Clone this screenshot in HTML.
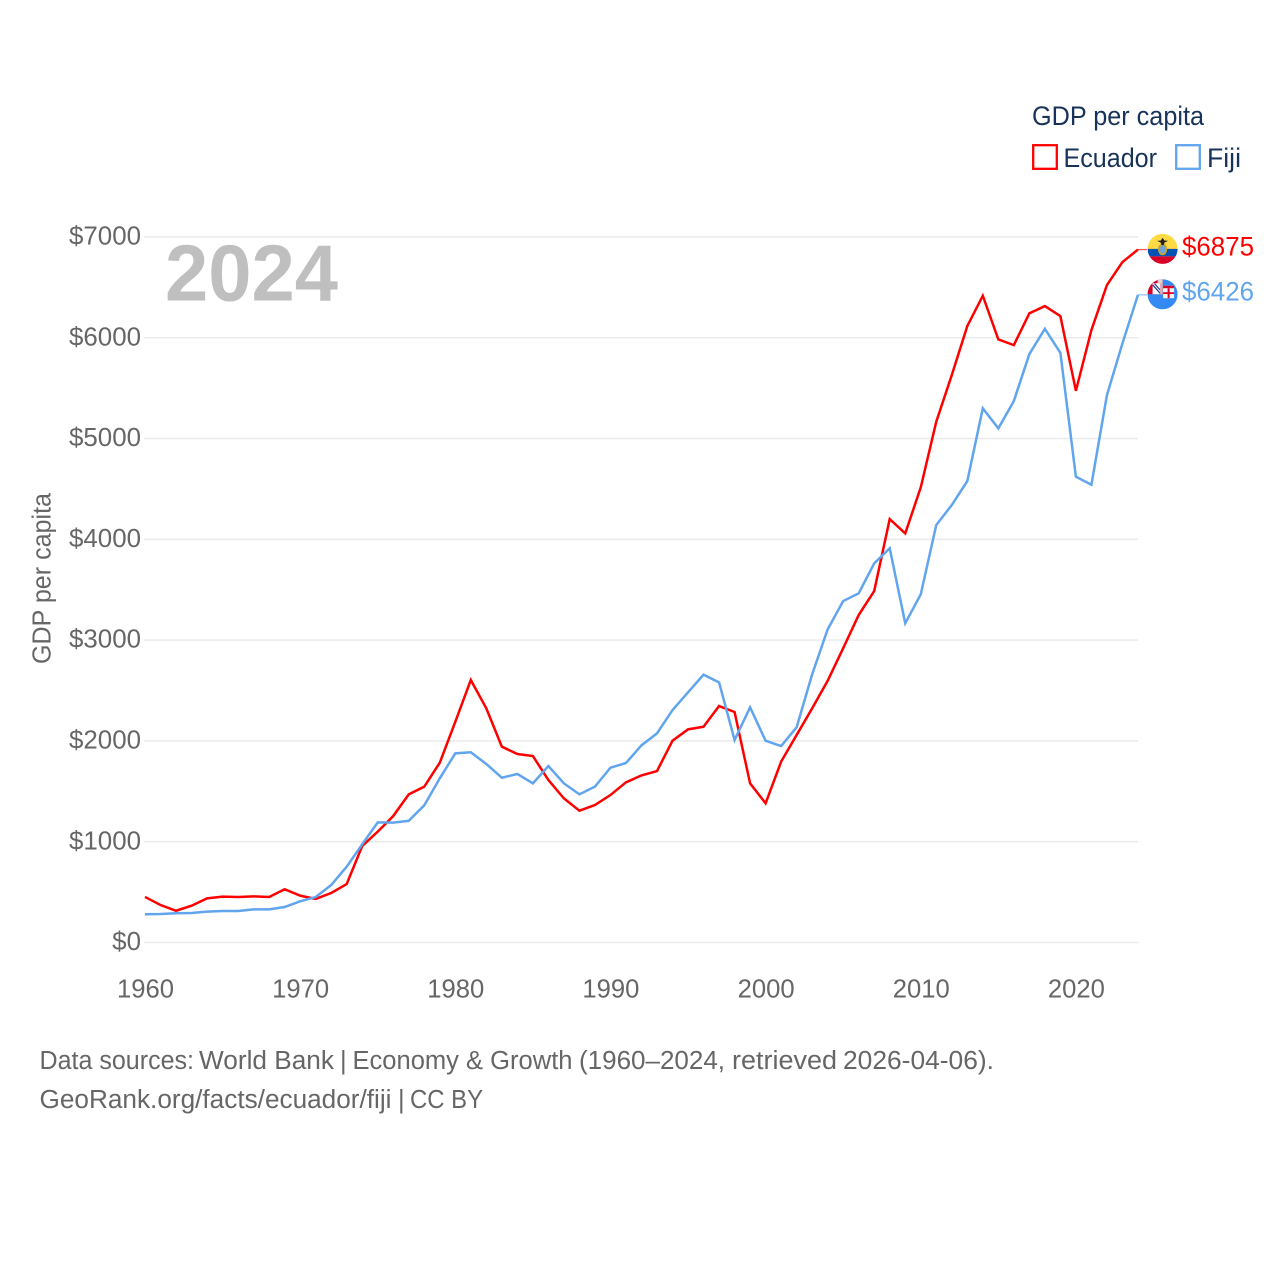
<!DOCTYPE html>
<html lang="en">
<head>
<meta charset="utf-8">
<title>GDP per capita: Ecuador and Fiji</title>
<style>
html,body{margin:0;padding:0;background:#fff;width:1280px;height:1280px;overflow:hidden}
svg{display:block}
text{font-family:"Liberation Sans",sans-serif}
</style>
</head>
<body>
<svg id="chart" xmlns="http://www.w3.org/2000/svg" width="1280" height="1280" viewBox="0 0 1280 1280">
  <rect width="1280" height="1280" fill="#ffffff"/>
  <g id="grid"></g>
  <g id="yticks"></g>
  <g id="xticks"></g>
  <text transform="translate(50.5,664) rotate(-90)" font-size="25.5" fill="#666666" textLength="171" lengthAdjust="spacingAndGlyphs">GDP per capita</text>
  <text id="yearLabel" x="165" y="300.5" font-size="80" font-weight="700" fill="#bfbfbf" textLength="173" lengthAdjust="spacingAndGlyphs"></text>
  <g id="series"></g>

  <g id="flagEcuador">
    <clipPath id="clipEc"><circle cx="0" cy="0" r="15"/></clipPath>
    <g clip-path="url(#clipEc)">
      <rect x="-15" y="-15" width="30" height="15.5" fill="#ffda44"/>
      <rect x="-15" y="0" width="30" height="7.5" fill="#0052b4"/>
      <rect x="-15" y="7.5" width="30" height="8" fill="#d80027"/>
    </g>
    <ellipse cx="0" cy="0.5" rx="4.6" ry="6" fill="#c9a227"/>
    <ellipse cx="0" cy="0.5" rx="2.8" ry="4.2" fill="#6da5d8"/>
    <path d="M-5.5,-8 L-1.8,-8.4 L0,-11 L1.8,-8.4 L5.5,-8 L2,-6.4 L1,-3.8 L-1,-3.8 L-2,-6.4 Z" fill="#222222"/>
  </g>

  <g id="flagFiji">
    <clipPath id="clipFj"><circle cx="0" cy="0" r="15"/></clipPath>
    <g clip-path="url(#clipFj)">
      <rect x="-15" y="-15" width="30" height="30" fill="#338af3"/>
      <rect x="-15" y="-15" width="15" height="15" fill="#d80027"/>
      <rect x="-5" y="-15" width="5" height="4" fill="#eccccc"/>
      <rect x="-10" y="-11" width="10" height="11" fill="#ffffff"/>
      <path d="M-9,-10 L-1,-1" stroke="#1f3f8f" stroke-width="3.4"/>
      <path d="M-9,-10 L-1,-1" stroke="#ffffff" stroke-width="1"/>
      <rect x="-2.5" y="-11" width="2.5" height="11" fill="#e8a8a8"/>
      <rect x="0.5" y="-8.5" width="11" height="12.5" fill="#f4f4f4"/>
      <rect x="0.5" y="-8.5" width="11" height="2.5" fill="#d80027"/>
      <rect x="5" y="-6" width="2" height="10" fill="#d80027"/>
      <rect x="0.5" y="-2" width="11" height="1.8" fill="#d80027"/>
      <rect x="-15" y="0.3" width="15.5" height="15" fill="#338af3"/>
    </g>
  </g>

  <g id="valueLabels"></g>

  <g>
    <text x="1032" y="125" font-size="27" fill="#17335a" textLength="172" lengthAdjust="spacingAndGlyphs">GDP per capita</text>
    <g>
      <rect x="1033.2" y="145.2" width="23.6" height="23.6" fill="#ffffff" stroke="#ff0000" stroke-width="2.3"/>
      <text x="1063.5" y="167" font-size="27" fill="#17335a" textLength="93.5" lengthAdjust="spacingAndGlyphs">Ecuador</text>
    </g>
    <g>
      <rect x="1176.2" y="145.2" width="23.6" height="23.6" fill="#ffffff" stroke="#60a5ed" stroke-width="2.3"/>
      <text x="1207" y="167" font-size="27" fill="#17335a" textLength="34" lengthAdjust="spacingAndGlyphs">Fiji</text>
    </g>
  </g>

  <g font-size="25.5" fill="#666666">
    <text x="39.5" y="1069" textLength="154.5" lengthAdjust="spacingAndGlyphs">Data sources:</text>
    <text x="199" y="1069" textLength="135" lengthAdjust="spacingAndGlyphs">World Bank</text>
    <text x="340" y="1069">|</text>
    <text x="352.5" y="1069" textLength="220" lengthAdjust="spacingAndGlyphs">Economy &amp; Growth</text>
    <text x="579" y="1069" textLength="146" lengthAdjust="spacingAndGlyphs">(1960–2024,</text>
    <text x="732" y="1069" textLength="105" lengthAdjust="spacingAndGlyphs">retrieved</text>
    <text x="843" y="1069" textLength="151" lengthAdjust="spacingAndGlyphs">2026-04-06).</text>
  </g>
  <g font-size="25.5" fill="#666666">
    <text x="39.5" y="1108" textLength="352" lengthAdjust="spacingAndGlyphs">GeoRank.org/facts/ecuador/fiji</text>
    <text x="398" y="1108">|</text>
    <text x="410" y="1108" textLength="73" lengthAdjust="spacingAndGlyphs">CC BY</text>
  </g>
</svg>
<script>
const startYear = 1960;
const yTickValues = [0, 1000, 2000, 3000, 4000, 5000, 6000, 7000];
const xTickValues = [1960, 1970, 1980, 1990, 2000, 2010, 2020];
const ecuadorValues = [452,372,315,365,438,455,451,458,451,528,465,432,491,580,957,1100,1255,1470,1546,1784,2190,2604,2323,1943,1870,1850,1612,1430,1308,1364,1463,1589,1658,1701,2002,2115,2141,2346,2287,1579,1381,1794,2059,2323,2597,2920,3249,3487,4201,4059,4515,5167,5630,6116,6417,5984,5927,6242,6314,6215,5474,6076,6523,6751,6875];
const fijiValues = [280,283,290,293,306,312,312,329,329,352,409,451,570,752,974,1192,1189,1208,1361,1629,1877,1887,1771,1635,1672,1579,1751,1579,1470,1546,1734,1781,1956,2075,2306,2482,2657,2581,2009,2333,2002,1949,2135,2660,3107,3388,3464,3762,3911,3167,3454,4142,4340,4578,5300,5101,5372,5838,6089,5851,4621,4542,5431,5945,6426];

const NS = 'http://www.w3.org/2000/svg';
const xScale = function (year) { return 145 + (year - 1960) * 15.515; };
const yScale = function (value) { return 942.5 - value * 0.10079; };
const lastYear = startYear + ecuadorValues.length - 1;

document.getElementById('yearLabel').textContent = String(lastYear);

const gridGroup = document.getElementById('grid');
const yTickGroup = document.getElementById('yticks');
yTickValues.forEach(function (v) {
  const line = document.createElementNS(NS, 'line');
  
  
  line.setAttribute('x1', 144);
  line.setAttribute('x2', 1138);
  line.setAttribute('y1', yScale(v));
  line.setAttribute('y2', yScale(v));
  line.setAttribute('stroke', '#ebebeb');
  line.setAttribute('stroke-width', 1.6);
  gridGroup.appendChild(line);

  const label = document.createElementNS(NS, 'text');
  const str = '$' + v;
  
  
  label.setAttribute('x', 141 - str.length * 14.4);
  label.setAttribute('y', yScale(v) + 7.6);
  label.setAttribute('font-size', 25.5);
  label.setAttribute('fill', '#666666');
  label.setAttribute('textLength', str.length * 14.4);
  label.setAttribute('lengthAdjust', 'spacingAndGlyphs');
  label.textContent = str;
  yTickGroup.appendChild(label);
});

const xTickGroup = document.getElementById('xticks');
xTickValues.forEach(function (yr) {
  const label = document.createElementNS(NS, 'text');
  
  
  label.setAttribute('x', xScale(yr) - 28);
  label.setAttribute('y', 997.5);
  label.setAttribute('font-size', 25.5);
  label.setAttribute('fill', '#666666');
  label.setAttribute('textLength', 57);
  label.setAttribute('lengthAdjust', 'spacingAndGlyphs');
  label.textContent = String(yr);
  xTickGroup.appendChild(label);
});

function linePoints(values) {
  return values.map(function (v, i) {
    return xScale(startYear + i).toFixed(2) + ',' + yScale(v).toFixed(2);
  }).join(' ');
}

const seriesGroup = document.getElementById('series');
const valueGroup = document.getElementById('valueLabels');

function drawSeries(values, color, lineName, connectorName, labelName) {
  const endValue = values[values.length - 1];
  const poly = document.createElementNS(NS, 'polyline');
  
  
  poly.setAttribute('points', linePoints(values));
  poly.setAttribute('fill', 'none');
  poly.setAttribute('stroke', color);
  poly.setAttribute('stroke-width', 2.5);
  poly.setAttribute('stroke-linejoin', 'miter');
  seriesGroup.appendChild(poly);

  const connector = document.createElementNS(NS, 'line');
  
  
  connector.setAttribute('x1', xScale(lastYear));
  connector.setAttribute('x2', 1147);
  connector.setAttribute('y1', yScale(endValue));
  connector.setAttribute('y2', yScale(endValue));
  connector.setAttribute('stroke', color);
  connector.setAttribute('stroke-width', 1.2);
  connector.setAttribute('stroke-opacity', 0.7);
  seriesGroup.appendChild(connector);

  const label = document.createElementNS(NS, 'text');
  
  
  label.setAttribute('x', 1182);
  label.setAttribute('y', yScale(endValue) + 5.8);
  label.setAttribute('font-size', 27);
  label.setAttribute('fill', color);
  label.setAttribute('textLength', 72);
  label.setAttribute('lengthAdjust', 'spacingAndGlyphs');
  label.textContent = '$' + endValue;
  valueGroup.appendChild(label);
}

drawSeries(ecuadorValues, '#ff0000', 'ecuador-line', 'ecuador-connector', 'ecuador-end-value');
drawSeries(fijiValues, '#60a5ed', 'fiji-line', 'fiji-connector', 'fiji-end-value');

document.getElementById('flagEcuador').setAttribute('transform', 'translate(1162.6,' + (yScale(ecuadorValues[ecuadorValues.length - 1]) - 0.7) + ')');
document.getElementById('flagFiji').setAttribute('transform', 'translate(1162.6,' + (yScale(fijiValues[fijiValues.length - 1]) - 0.6) + ')');
</script>
</body>
</html>
